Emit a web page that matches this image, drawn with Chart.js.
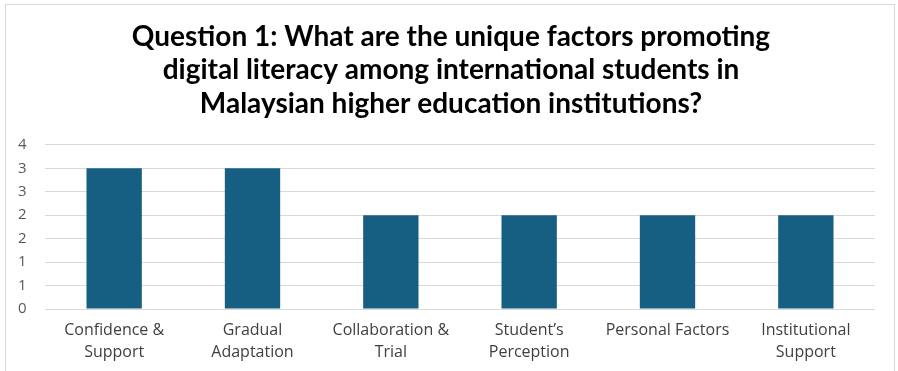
<!DOCTYPE html>
<html>
<head>
<meta charset="utf-8">
<script src="https://cdn.jsdelivr.net/npm/chart.js@4/dist/chart.umd.min.js"></script>
<style>
  html, body { margin: 0; padding: 0; background: #fff; }
  #wrap { position: relative; width: 898px; height: 371px; overflow: hidden; }
  #frame { position: absolute; left: 5px; top: 4px; width: 888px; height: 380px; border: 1px solid #d9d9d9; }
  canvas { position: absolute; left: 0; top: 0; }
</style>
</head>
<body>
<div id="wrap">
  <div id="frame"></div>
  <canvas id="chart" width="898" height="371"></canvas>
</div>
<script>
const categories = [
  ["Confidence &", "Support"],
  ["Gradual", "Adaptation"],
  ["Collaboration &", "Trial"],
  ["Student\u2019s", "Perception"],
  ["Personal Factors"],
  ["Institutional", "Support"],
];
const counts = [3, 3, 2, 2, 2, 2];
const titleLines = [
  "Question 1: What are the unique factors promoting",
  "digital literacy among international students in",
  "Malaysian higher education institutions?",
];

const chart = new Chart(document.getElementById("chart"), {
  type: "bar",
  data: {
    labels: categories,
    datasets: [
      {
        data: counts,
        backgroundColor: "#175e83",
        categoryPercentage: 1,
        barPercentage: 0.4,
      },
    ],
  },
  options: {
    responsive: false,
    animation: false,
    layout: { padding: { left: 27, right: 23, top: 0, bottom: 6 } },
    plugins: {
      legend: { display: false },
      tooltip: { enabled: false },
      title: {
        display: true,
        text: titleLines,
        color: "#000",
        font: { family: "Lato", size: 28, weight: "bold", lineHeight: 1.2 },
        padding: { top: 20, bottom: 24 },
      },
    },
    scales: {
      x: {
        grid: { display: false },
        border: { display: false },
        ticks: {
          color: "#404040",
          font: { family: "Open Sans", size: 16, lineHeight: 1.375 },
          maxRotation: 0,
          autoSkip: false,
          padding: 2,
        },
      },
      y: {
        min: 0,
        max: 3.5,
        afterFit: (scale) => {
          scale.width = 18;
        },
        grid: { color: "#d9d9d9", lineWidth: 1, drawTicks: false },
        border: { display: false },
        ticks: {
          stepSize: 0.5,
          mirror: true,
          padding: -27,
          color: "#595959",
          font: { family: "Open Sans", size: 15 },
          callback: (v) => Math.round(v),
        },
      },
    },
  },
});
</script>
</body>
</html>
